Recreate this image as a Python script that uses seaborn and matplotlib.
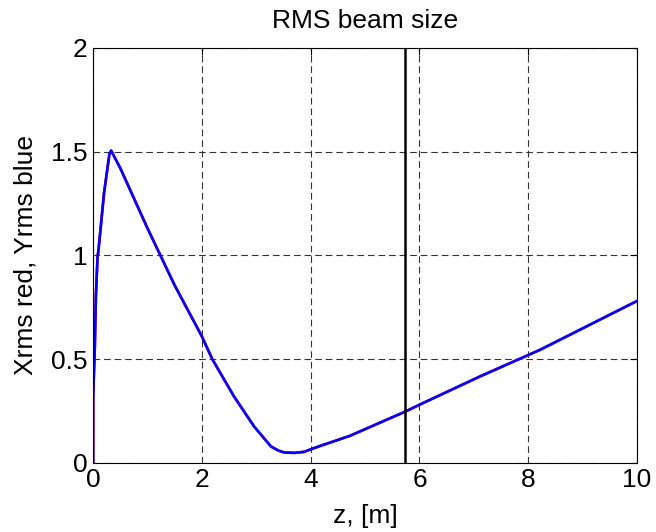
import matplotlib
matplotlib.use("Agg")
import matplotlib.pyplot as plt
import seaborn as sns
import pandas as pd

# beam envelope (z in m, rms size)
z_vals = [0.0, 0.0, 0.01, 0.03, 0.05, 0.08, 0.10, 0.20, 0.30, 0.33, 0.50, 1.00,
          1.50, 2.00, 2.19, 2.59, 2.96, 3.27, 3.40, 3.51, 3.70, 3.88,
          4.00, 4.18, 4.72, 5.74, 6.00, 7.11, 8.22, 10.0]
rms_vals = [0.0, 0.31, 0.40, 0.55, 0.80, 0.99, 1.03, 1.30, 1.49, 1.505, 1.42, 1.13,
            0.855, 0.609, 0.50, 0.32, 0.175, 0.079, 0.06, 0.05, 0.048, 0.053,
            0.065, 0.082, 0.13, 0.247, 0.28, 0.416, 0.545, 0.78]
marker_z = 5.74

x_ticks = [0, 2, 4, 6, 8, 10]
y_ticks = [0, 0.5, 1, 1.5, 2]
y_tick_labels = ["0", "0.5", "1", "1.5", "2"]

df = pd.DataFrame({"z": z_vals, "rms": rms_vals})

sns.set_style("white")
plt.rcParams['font.family'] = ['Liberation Sans', 'DejaVu Sans']
plt.rcParams['xtick.direction'] = 'in'
plt.rcParams['ytick.direction'] = 'in'
plt.rcParams['text.color'] = 'black'
plt.rcParams['axes.labelcolor'] = 'black'

fig = plt.figure(figsize=(6.56, 5.32), dpi=100)
ax = fig.add_axes([0.142, 0.130, 0.829, 0.780])

# red (x) is hidden beneath blue (y) in the original
sns.lineplot(data=df, x="z", y="rms", sort=False, estimator=None,
             color="red", linewidth=1.9, ax=ax)
sns.lineplot(data=df, x="z", y="rms", sort=False, estimator=None,
             color="blue", linewidth=1.9, ax=ax)
ax.axvline(marker_z, color="black", linewidth=1.8)

ax.set_xlim(0, 10)
ax.set_ylim(0, 2)
ax.set_xticks(x_ticks)
ax.set_yticks(y_ticks)
ax.set_xticklabels([str(t) for t in x_ticks])
ax.set_yticklabels(y_tick_labels)
ax.grid(True, color="#333333", linestyle=(0, (6, 3.5)), linewidth=0.8)
ax.tick_params(axis="both", labelsize=19, length=5, width=0.8,
               top=True, right=True, colors="black", pad=4)
for s in ax.spines.values():
    s.set_color("black")
    s.set_linewidth(0.8)

ax.set_title("RMS beam size", fontsize=19, pad=14, color="black")
ax.set_xlabel("z, [m]", fontsize=19, labelpad=8)
ax.set_ylabel("Xrms red, Yrms blue", fontsize=19, labelpad=10)

fig.savefig("out.png", dpi=100, facecolor="white")
